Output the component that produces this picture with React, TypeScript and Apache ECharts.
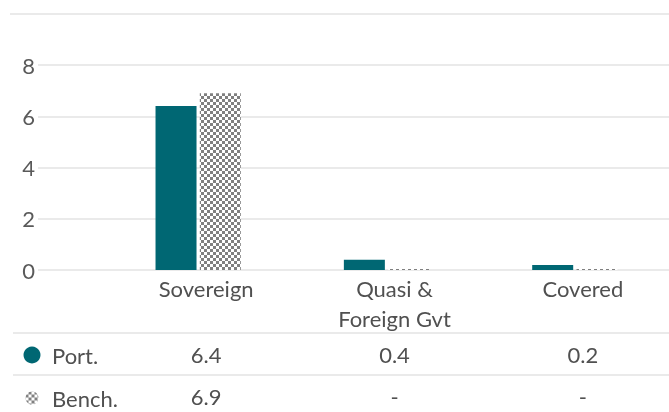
import React, { useEffect, useRef } from "react";
import * as echarts from "echarts";

const categories = ["Sovereign", "Quasi &\nForeign Gvt", "Covered"];
const portValues = [6.4, 0.4, 0.2];
const benchValues = [6.9, 0, 0];
const seriesNames = ["Port.", "Bench."];
const yTicks = { min: 0, max: 8, interval: 2 };

const TEAL = "#006773";
const FONT = "Lato, 'Source Sans Pro', sans-serif";
const TEXT = "#505050";
const LINE = "#e3e3e3";
const FS = 22;

const fmt = (v: number) => (v === 0 ? "-" : v.toFixed(1));

export default function App() {
  const ref = useRef<HTMLDivElement>(null);
  useEffect(() => {
    if (!ref.current) return;
    const chart = echarts.init(ref.current, null, { renderer: "svg" });
    const tableAxis = (data: string[], offset: number) => ({
      type: "category",
      gridIndex: 0,
      position: "bottom",
      offset,
      data,
      axisLine: { show: false },
      axisTick: { show: false },
      axisLabel: {
        fontSize: FS,
        fontFamily: FONT,
        color: TEXT,
        lineHeight: 30,
        margin: 3,
        padding: [0, 0, 0, 16],
      },
    });
    const legendItem = (name: string, centerY: number, size: number) => ({
      orient: "horizontal",
      left: 32 - size / 2,
      top: centerY - 11,
      padding: 0,
      itemWidth: size,
      itemHeight: size,
      icon: "circle",
      selectedMode: false,
      textStyle: {
        fontSize: FS,
        fontFamily: FONT,
        color: TEXT,
        lineHeight: 22,
        padding: [0, 0, 0, 47 - (32 + size / 2)],
      },
      data: [name],
    });
    chart.setOption({
      animation: false,
      grid: [
        { left: 104, width: 569, top: 65, bottom: 142, containLabel: false },
        { left: 38, right: 0, top: 65, bottom: 142, containLabel: false },
      ],
      legend: [legendItem(seriesNames[0], 355, 17), legendItem(seriesNames[1], 398, 13)],
      xAxis: [
        {
          type: "category",
          gridIndex: 0,
          data: categories,
          axisLine: { show: false },
          axisTick: { show: false },
          axisLabel: {
            fontSize: FS,
            fontFamily: FONT,
            color: TEXT,
            lineHeight: 30,
            margin: 3,
            padding: [0, 0, 0, 16],
            interval: 0,
          },
        },
        tableAxis(portValues.map(fmt), 66),
        tableAxis(benchValues.map(fmt), 108),
        { type: "value", gridIndex: 1, show: false, min: 0, max: 1 },
      ],
      yAxis: [
        {
          type: "value",
          gridIndex: 0,
          ...yTicks,
          show: false,
          splitLine: { show: false },
        },
        {
          type: "value",
          gridIndex: 1,
          ...yTicks,
          axisLine: { show: false },
          axisTick: { show: false },
          axisLabel: {
            fontSize: FS,
            fontFamily: FONT,
            color: "#5a5a5a",
            margin: 3,
          },
          splitLine: { show: true, lineStyle: { color: LINE, width: 1.5 } },
        },
      ],
      series: [
        {
          name: seriesNames[0],
          type: "bar",
          xAxisIndex: 0,
          yAxisIndex: 0,
          data: portValues,
          barWidth: 41,
          barGap: "8%",
          itemStyle: { color: TEAL },
        },
        {
          name: seriesNames[1],
          type: "bar",
          xAxisIndex: 0,
          yAxisIndex: 0,
          data: benchValues,
          barWidth: 41,
          barMinHeight: 1,
          itemStyle: {
            color: "#ffffff",
            decal: {
              symbol: "rect",
              symbolSize: 1,
              color: "#808080",
              dashArrayX: [
                [3, 3],
                [0, 3, 3, 0],
              ],
              dashArrayY: [3, 0],
              rotation: 0,
            },
          },
        },
      ],
      graphic: [
        {
          type: "line",
          shape: { x1: 10, y1: 14, x2: 669, y2: 14 },
          style: { stroke: LINE, lineWidth: 1.5 },
        },
        {
          type: "line",
          shape: { x1: 13, y1: 333, x2: 669, y2: 333 },
          style: { stroke: LINE, lineWidth: 1.5 },
        },
        {
          type: "line",
          shape: { x1: 13, y1: 375, x2: 669, y2: 375 },
          style: { stroke: LINE, lineWidth: 1.5 },
        },
      ],
    });
    return () => chart.dispose();
  }, []);
  return <div ref={ref} style={{ width: 669, height: 412, position: "fixed", left: 0, top: 0 }} />;
}
